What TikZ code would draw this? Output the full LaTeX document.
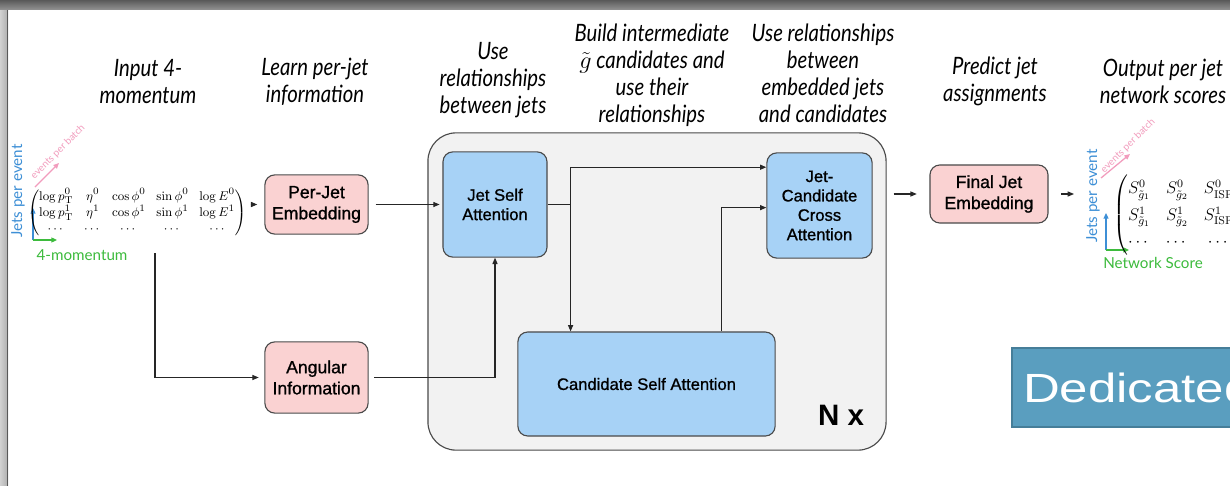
\documentclass[tikz,border=0pt]{standalone}
\usepackage{amsmath}
\usepackage[no-math]{fontspec}
\setmainfont{Liberation Sans}
\newfontfamily\headfont{Lato}[FakeStretch=0.85]
\newfontfamily\axisfont{Lato}
\newfontfamily\boxfont{Liberation Sans}[FakeBold=1]
\newfontfamily\bannerfont{Liberation Sans}[FakeStretch=1.25]
\usetikzlibrary{arrows.meta,calc}

\definecolor{jetpink}{HTML}{FAD2D2}
\definecolor{attnblue}{HTML}{A7D2F6}
\definecolor{loopgray}{HTML}{F2F2F2}
\definecolor{edge}{HTML}{4A4A4A}
\definecolor{axisblue}{HTML}{3D8FD6}
\definecolor{axisgreen}{HTML}{3DBB3D}
\definecolor{axispink}{HTML}{F29CBD}
\definecolor{banner}{HTML}{5A9EBF}
\definecolor{banneredge}{HTML}{467E99}

\tikzset{
  box/.style={draw=edge, line width=0.8pt, rounded corners=7pt, align=center, inner sep=2pt},
  pinkbox/.style={box, fill=jetpink, font=\boxfont\fontsize{12.5}{15}\selectfont},
  bluebox/.style={box, fill=attnblue, font=\boxfont\fontsize{11.8}{13.8}\selectfont},
  head/.style={font=\headfont\itshape\fontsize{17}{19.2}\selectfont, align=center},
  arr/.style={-{Triangle[length=4.5pt,width=3.6pt]}, line width=0.8pt, draw=black!85},
  axisarr/.style={-{Triangle[length=4pt,width=3.5pt]}, line width=0.9pt},
  axislabel/.style={font=\axisfont\fontsize{10.8}{12}\selectfont},
  batchlabel/.style={text=axispink, rotate=45, font=\axisfont\fontsize{7}{8}\selectfont},
}

\begin{document}
\begin{tikzpicture}[x=0.025cm, y=-0.025cm]
  \useasboundingbox (0,0) rectangle (1230,486);
  \clip (0,0) rectangle (1230,486);
  % window frame
  \fill[white] (0,0) rectangle (1230,486);
  \shade[left color=black!18, right color=black!32] (0,0) rectangle (8,486);
  \shade[top color=black!65, bottom color=black!42] (0,0) rectangle (1230,10);
  \draw[black!65, line width=0.8pt] (7.5,10) -- (7.5,486);

  % column headings
  \node[head] (hInput)   at (148,81.5) {Input 4-\\momentum};
  \node[head] (hLearn)   at (315,81.5) {Learn per-jet\\information};
  \node[head] (hJets)    at (493,80)   {Use\\relationships\\between jets};
  \node[head] (hBuild)   at (652,75)   {Build intermediate\\$\tilde{g}$ candidates and\\use their\\relationships};
  \node[head] (hCross)   at (823,73.5) {Use relationships\\between\\embedded jets\\and candidates};
  \node[head] (hPredict) at (995,81.5) {Predict jet\\assignments};
  \node[head] (hOutput)  at (1163,81.5) {Output per jet\\network scores};

  % repeated attention block
  \node[draw=edge, fill=loopgray, line width=0.8pt, rounded corners=20pt,
        minimum width=11.45cm, minimum height=7.93cm] (loop) at (657,291.5) {};
  \node[font=\bfseries\fontsize{21}{24}\selectfont] (nx) at (841,415) {N x};

  % input tensor
  \node[axislabel, text=axisblue, rotate=90] (inJets) at (18,191) {Jets per event};
  \node[axislabel, text=axisgreen] (inMom) at (82,255) {4-momentum};
  \node[batchlabel] (inBatch) at (58,152) {events per batch};
  \coordinate (inorigin) at (33,240);
  \draw[axisblue, axisarr] (inorigin) -- (33,208);
  \draw[axisgreen, axisarr] (inorigin) -- (57,240);
  \draw[axispink, axisarr] (35,187) -- (59,163);
  \node[inner sep=0pt] (inmat) at (137,213) {\fontsize{9.5}{11.5}\selectfont
    \setlength{\arraycolsep}{3.8pt}%
    $\begin{pmatrix}
      \log p_{\mathrm{T}}^{0} & \eta^{0} & \cos\phi^{0} & \sin\phi^{0} & \log E^{0}\\
      \log p_{\mathrm{T}}^{1} & \eta^{1} & \cos\phi^{1} & \sin\phi^{1} & \log E^{1}\\
      \cdots & \cdots & \cdots & \cdots & \cdots
    \end{pmatrix}$};

  % network blocks
  \node[pinkbox, minimum width=2.58cm, minimum height=1.48cm] (perjet) at (316.5,204.5) {Per-Jet\\Embedding};
  \node[pinkbox, minimum width=2.58cm, minimum height=1.78cm] (angular) at (316.5,377.5) {Angular\\Information};
  \node[bluebox, minimum width=2.6cm, minimum height=2.63cm] (jsa) at (495,204.5) {Jet Self\\Attention};
  \node[bluebox, minimum width=2.63cm, minimum height=2.63cm] (cross) at (819.5,205.5) {Jet-\\Candidate\\Cross\\Attention};
  \node[bluebox, minimum width=6.43cm, minimum height=2.6cm] (cand) at (646.5,384) {Candidate Self Attention};
  \node[pinkbox, minimum width=2.95cm, minimum height=1.45cm] (final) at (989,194) {Final Jet\\Embedding};

  % output tensor
  \node[axislabel, text=axisblue, rotate=90] (outJets) at (1093,196) {Jets per event};
  \node[axislabel, text=axisgreen] (outScore) at (1153,263) {Network Score};
  \node[batchlabel] (outBatch) at (1128,146) {events per batch};
  \coordinate (outorigin) at (1106,250);
  \draw[axisblue, axisarr] (outorigin) -- (1106,213);
  \draw[axisgreen, axisarr] (outorigin) -- (1129,250);
  \draw[axispink, axisarr] (1101,178) -- (1130,154);
  \node[inner sep=0pt, anchor=west] (outmat) at (1113,215) {\fontsize{12}{15}\selectfont
    \renewcommand{\arraystretch}{1.25}\setlength{\arraycolsep}{5.5pt}%
    $\begin{pmatrix}
      S^{0}_{\tilde{g}_1} & S^{0}_{\tilde{g}_2} & S^{0}_{\mathrm{ISR}} & S^{0}_{\mathrm{ISR}}\\
      S^{1}_{\tilde{g}_1} & S^{1}_{\tilde{g}_2} & S^{1}_{\mathrm{ISR}} & S^{1}_{\mathrm{ISR}}\\
      \cdots & \cdots & \cdots & \cdots
    \end{pmatrix}$};

  % connectors
  \draw[arr, shorten <=3pt, shorten >=5pt] (inmat.east |- perjet.west) -- (perjet.west);
  \coordinate (tap) at (155,253);
  \draw[arr, shorten >=4pt] (tap) |- (angular.west);
  \draw[arr, shorten <=5pt, shorten >=2pt] (perjet.east) -- (jsa.west);
  \draw[arr, shorten <=4pt] (angular.east) -| (jsa.south);
  \coordinate (branch) at ($(jsa.east)+(23,0)$);
  \draw[line width=0.8pt, black!85] (jsa.east) -- (branch);
  \draw[arr] (branch) |- ($(cross.north west)!0.14!(cross.south west)$);
  \draw[arr] (branch) -- (branch |- cand.north);
  \draw[arr] ($(cand.north west)!0.79!(cand.north east)$) |- ($(cross.north west)!0.52!(cross.south west)$);
  \draw[arr, shorten <=5pt, shorten >=9pt] (loop.east |- final.west) -- (final.west);
  \coordinate (scores) at (1074,194);
  \draw[arr, shorten <=9pt] (final.east) -- (scores);

  % banner at the right edge
  \node[draw=banneredge, fill=banner, line width=1.2pt, anchor=west,
        minimum height=1.98cm, text width=6cm, align=left, inner xsep=0.28cm,
        text=white, font=\bannerfont\fontsize{29}{32}\selectfont] (dedicated) at (1011,387.5) {Dedicated};
\end{tikzpicture}
\end{document}
